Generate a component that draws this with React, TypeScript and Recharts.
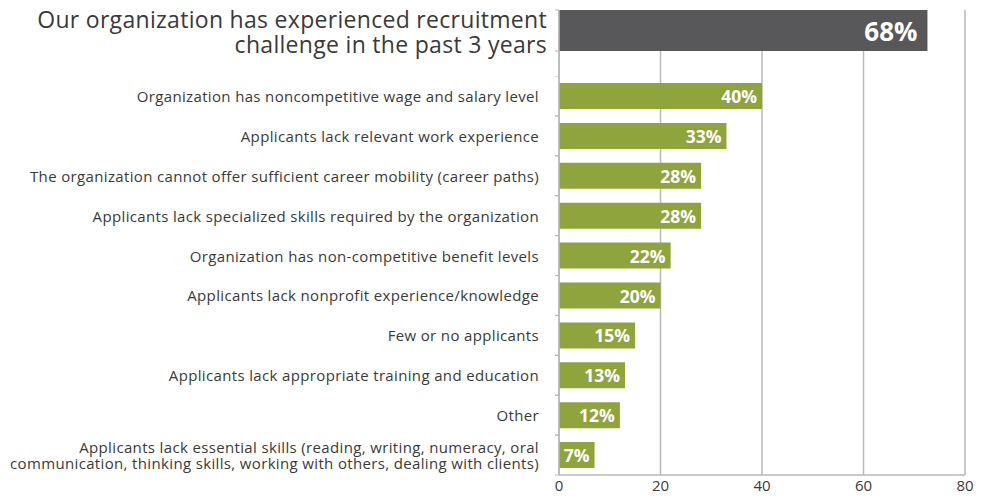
import React from "react";
import { BarChart, Bar, XAxis, YAxis, CartesianGrid, LabelList } from "recharts";

const topCategories = ["Our organization has experienced recruitment challenge in the past 3 years"];
const topBarValues = [72.6];
const topLabels = ["68%"];

const categories = [
  "Organization has noncompetitive wage and salary level",
  "Applicants lack relevant work experience",
  "The organization cannot offer sufficient career mobility (career paths)",
  "Applicants lack specialized skills required by the organization",
  "Organization has non-competitive benefit levels",
  "Applicants lack nonprofit experience/knowledge",
  "Few or no applicants",
  "Applicants lack appropriate training and education",
  "Other",
  "Applicants lack essential skills (reading, writing, numeracy, oral communication, thinking skills, working with others, dealing with clients)",
];
const values = [40, 33, 28, 28, 22, 20, 15, 13, 12, 7];
const xTicks = [0, 20, 40, 60, 80];

const topData = topCategories.map((name, i) => ({ name, value: topBarValues[i], label: topLabels[i] }));
const data = categories.map((name, i) => ({ name, value: values[i], label: `${values[i]}%` }));

const FONT = "'Open Sans', sans-serif";
const TEXT = "#3a3a3a";
const GRID = "#b8b8b8";
const GREEN = "#8fa43c";
const DARK = "#58585a";

function wrap(text: string, maxChars: number): string[] {
  const words = text.split(" ");
  const lines: string[] = [];
  let cur = "";
  for (const w of words) {
    const next = cur ? cur + " " + w : w;
    if (next.length > maxChars && cur) {
      lines.push(cur);
      cur = w;
    } else cur = next;
  }
  if (cur) lines.push(cur);
  return lines;
}

const TopTick = (props: any) => {
  const { x, y, payload } = props;
  const lines = wrap(payload.value, 45);
  return (
    <g>
      <line x1={x + 16} x2={x + 20} y1={y - 20.5} y2={y - 20.5} stroke={GRID} />
      <line x1={x + 16} x2={x + 20} y1={y + 20.5} y2={y + 20.5} stroke={GRID} />
      <text x={x + 8} y={y - 11.5} textAnchor="end" dominantBaseline="central"
        fontFamily={FONT} fontSize={23} letterSpacing={0.3} fill={TEXT}>
        {lines.map((l, i) => (
          <tspan key={i} x={x + 8} dy={i === 0 ? 0 : 25}>{l}</tspan>
        ))}
      </text>
    </g>
  );
};

const CatTick = (props: any) => {
  const { x, y, payload } = props;
  const lines = wrap(payload.value, 75);
  const lh = 16;
  const start = y - ((lines.length - 1) * lh) / 2;
  return (
    <g>
      <line x1={x + 16} x2={x + 20} y1={y - 20} y2={y - 20} stroke={GRID} />
      <line x1={x + 16} x2={x + 20} y1={y + 20} y2={y + 20} stroke={GRID} />
      <text x={x} y={start} textAnchor="end" dominantBaseline="central"
        fontFamily={FONT} fontSize={15} letterSpacing={0.35} fill={TEXT}>
        {lines.map((l, i) => (
          <tspan key={i} x={x} dy={i === 0 ? 0 : lh}>{l}</tspan>
        ))}
      </text>
    </g>
  );
};

const makeLabel = (size: number, pad: number, labels: string[]) => (props: any) => {
  const { x, y, width, height, index } = props;
  return (
    <text x={x + width - pad} y={y + height / 2} textAnchor="end" dominantBaseline="central"
      fontFamily={FONT} fontWeight={700} fontSize={size} fill="#ffffff">{labels[index]}</text>
  );
};

export default function App() {
  return (
    <div style={{ position: "absolute", left: 0, top: 0, width: 987, height: 497, background: "#fff" }}>
      <div style={{ position: "absolute", left: 0, top: 0 }}>
        <BarChart width={987} height={76} data={topData} layout="vertical" barCategoryGap={0}
          margin={{ top: 10, right: 22, left: 0, bottom: 0 }}>
          <CartesianGrid horizontal={false} stroke={GRID} strokeWidth={1.5} />
          <XAxis type="number" domain={[0, 80]} ticks={xTicks} hide />
          <YAxis type="category" dataKey="name" width={559} padding={{ top: 0, bottom: 25 }}
            tickLine={false} tickSize={0} tickMargin={20} axisLine={{ stroke: GRID, strokeWidth: 1.5 }}
            tick={<TopTick />} interval={0} />
          <Bar dataKey="value" fill={DARK} isAnimationActive={false}>
            <LabelList dataKey="label" content={makeLabel(26, 10, topLabels)} />
          </Bar>
        </BarChart>
      </div>
      <div style={{ position: "absolute", left: 0, top: 76 }}>
        <BarChart width={987} height={421} data={data} layout="vertical"
          margin={{ top: 0, right: 22, left: 0, bottom: 0 }}>
          <CartesianGrid horizontal={false} stroke={GRID} strokeWidth={1.5} />
          <XAxis type="number" domain={[0, 80]} ticks={xTicks} height={22} tickLine={false}
            tickSize={3} tickMargin={2}
            axisLine={{ stroke: GRID, strokeWidth: 1.5 }}
            tick={{ fill: TEXT, fontSize: 15, fontFamily: FONT }} />
          <YAxis type="category" dataKey="name" width={559} tickLine={false} tickSize={0} tickMargin={20}
            axisLine={{ stroke: GRID, strokeWidth: 1.5 }} tick={<CatTick />} interval={0} />
          <Bar dataKey="value" fill={GREEN} barSize={26} isAnimationActive={false}>
            <LabelList dataKey="label" content={makeLabel(17.5, 5, data.map((d) => d.label))} />
          </Bar>
        </BarChart>
      </div>
    </div>
  );
}
